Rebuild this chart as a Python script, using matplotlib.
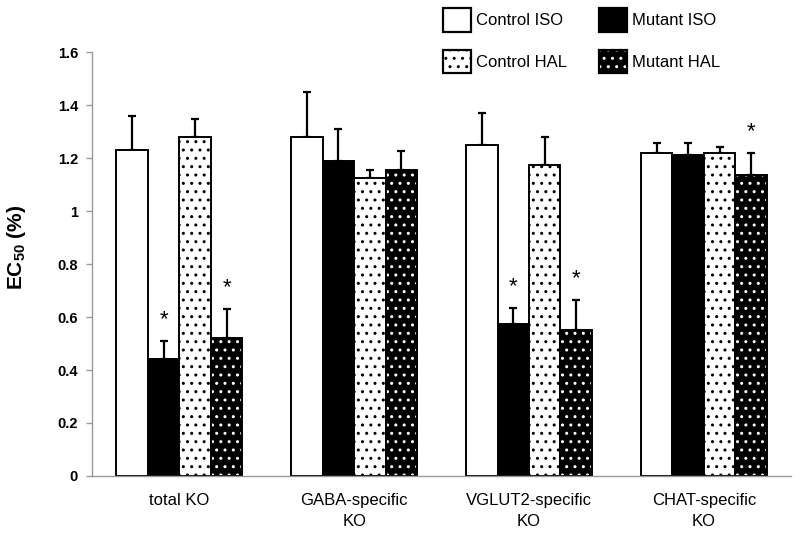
import matplotlib
matplotlib.use("Agg")
import matplotlib.pyplot as plt
import numpy as np
from matplotlib.patches import Patch
from matplotlib.legend_handler import HandlerTuple

plt.rcParams['font.family'] = ['Liberation Sans', 'DejaVu Sans']
plt.rcParams['mathtext.fontset'] = 'custom'
plt.rcParams['mathtext.rm'] = 'Liberation Sans'
plt.rcParams['mathtext.bf'] = 'Liberation Sans:bold'
plt.rcParams['hatch.linewidth'] = 1.0

categories = ["total KO", "GABA-specific\nKO", "VGLUT2-specific\nKO", "CHAT-specific\nKO"]
series_names = ["Control ISO", "Mutant ISO", "Control HAL", "Mutant HAL"]
control_iso = [1.23, 1.28, 1.25, 1.22]
control_iso_err = [0.13, 0.17, 0.12, 0.037]
mutant_iso = [0.44, 1.19, 0.575, 1.21]
mutant_iso_err = [0.07, 0.12, 0.06, 0.048]
control_hal = [1.28, 1.125, 1.175, 1.22]
control_hal_err = [0.068, 0.03, 0.105, 0.023]
mutant_hal = [0.52, 1.155, 0.55, 1.135]
mutant_hal_err = [0.11, 0.072, 0.115, 0.085]
# significance flags
sig_mutant_iso = [True, False, True, False]
sig_mutant_hal = [True, False, True, True]

fig = plt.figure(figsize=(8.0, 5.43), dpi=100)
ax = fig.add_axes([0.115, 0.1234, 0.874, 0.7808])

x = np.arange(len(categories))
w = 0.18
offsets = np.array([-1.5, -0.5, 0.5, 1.5]) * w
lw = 1.4

def err(pos, vals, errs):
    ax.errorbar(pos, vals, yerr=[np.zeros(len(vals)), errs], fmt='none',
                ecolor='black', elinewidth=1.6, capsize=2.9, capthick=1.6, zorder=1)

ax.bar(x + offsets[0], control_iso, w, facecolor='white', edgecolor='black', linewidth=lw, zorder=2)
err(x + offsets[0], control_iso, control_iso_err)
ax.bar(x + offsets[1], mutant_iso, w, facecolor='black', edgecolor='black', linewidth=lw, zorder=2)
err(x + offsets[1], mutant_iso, mutant_iso_err)
ax.bar(x + offsets[2], control_hal, w, facecolor='white', edgecolor='black', hatch='..', linewidth=lw, zorder=2)
err(x + offsets[2], control_hal, control_hal_err)
ax.bar(x + offsets[3], mutant_hal, w, facecolor='black', edgecolor='white', hatch='..', linewidth=0, zorder=2)
ax.bar(x + offsets[3], mutant_hal, w, fill=False, edgecolor='black', linewidth=lw, zorder=2.5)
err(x + offsets[3], mutant_hal, mutant_hal_err)

for i in range(len(categories)):
    if sig_mutant_iso[i]:
        ax.text(x[i] + offsets[1], mutant_iso[i] + mutant_iso_err[i] + 0.04, '*',
                ha='center', va='bottom', fontsize=16)
    if sig_mutant_hal[i]:
        ax.text(x[i] + offsets[3], mutant_hal[i] + mutant_hal_err[i] + 0.04, '*',
                ha='center', va='bottom', fontsize=16)

ax.set_xlim(-0.5, 3.5)
ax.set_ylim(0, 1.6)
ax.set_yticks(np.arange(0, 1.61, 0.2))
ax.set_yticklabels(['0', '0.2', '0.4', '0.6', '0.8', '1', '1.2', '1.4', '1.6'],
                   fontsize=10.5, fontweight='bold')
ax.set_xticks(x)
ax.set_xticklabels(categories, fontsize=12, linespacing=1.5)
ax.tick_params(axis='x', length=0, pad=12)
ax.tick_params(axis='y', length=4, color='#999999', width=1, pad=6)
for s in ['top', 'right']:
    ax.spines[s].set_visible(False)
for s in ['left', 'bottom']:
    ax.spines[s].set_color('#999999')
    ax.spines[s].set_linewidth(1)
ax.set_ylabel('EC$_{\\mathbf{50}}$ (%)', fontsize=15, fontweight='bold')
ax.yaxis.set_label_coords(-0.092, 0.54)

h_ci = Patch(facecolor='white', edgecolor='black', linewidth=1.6)
h_mi = Patch(facecolor='black', edgecolor='black', linewidth=1.6)
h_ch = Patch(facecolor='white', edgecolor='black', hatch='..', linewidth=1.6)
h_mh = (Patch(facecolor='black', edgecolor='white', hatch='..', linewidth=0),
        Patch(fill=False, edgecolor='black', linewidth=1.6))
# column-wise fill: col1 = Control ISO, Control HAL ; col2 = Mutant ISO, Mutant HAL
handles = [h_ci, h_ch, h_mi, h_mh]
labels = [series_names[0], series_names[2], series_names[1], series_names[3]]
leg = fig.legend(handles, labels, loc='upper left', bbox_to_anchor=(0.535, 1.012),
                 ncol=2, frameon=False, fontsize=12, handlelength=1.65, handleheight=1.75,
                 handletextpad=0.35, columnspacing=1.9, labelspacing=1.1,
                 handler_map={tuple: HandlerTuple(ndivide=1, pad=0)})

fig.savefig('out.png', dpi=100)
